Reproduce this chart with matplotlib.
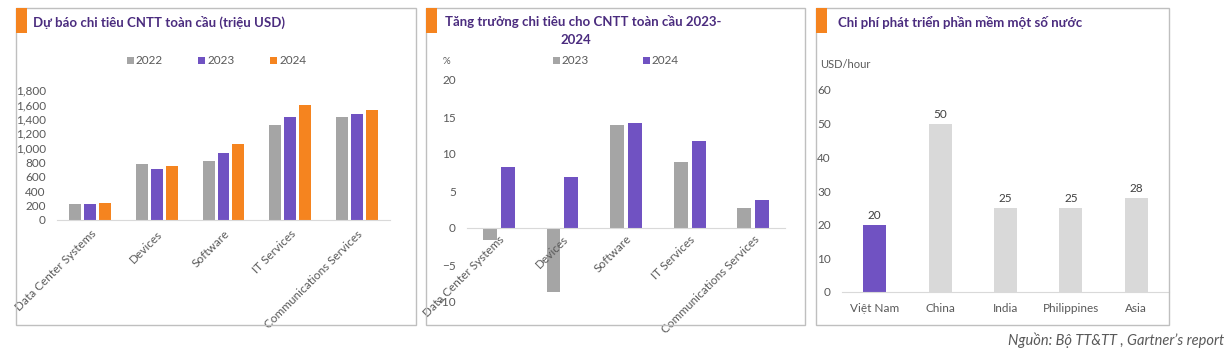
import matplotlib.pyplot as plt
import numpy as np
from matplotlib.patches import Rectangle

plt.rcParams["font.family"] = ["Lato", "DejaVu Sans"]

W, H = 1227, 357

# chart 1: global IT spending forecast (million USD)
segments = ["Data Center Systems", "Devices", "Software", "IT Services", "Communications Services"]
years1 = ["2022", "2023", "2024"]
spend_2022 = [221, 771, 812, 1311, 1426]
spend_2023 = [217, 701, 928, 1426, 1468]
spend_2024 = [240, 752, 1057, 1592, 1523]
spend_ticks = [0, 200, 400, 600, 800, 1000, 1200, 1400, 1600, 1800]

# chart 2: growth of IT spending (%)
years2 = ["2023", "2024"]
growth_2023 = [-1.6, -8.7, 13.9, 8.9, 2.7]
growth_2024 = [8.2, 6.95, 14.2, 11.7, 3.8]
growth_ticks = [-10, -5, 0, 5, 10, 15, 20]

# chart 3: software development cost
countries = ["Việt Nam", "China", "India", "Philippines", "Asia"]
cost = [20, 50, 25, 25, 28]
cost_ticks = [0, 10, 20, 30, 40, 50, 60]

GRAY = "#A5A5A5"
LIGHT = "#D9D9D9"
PURPLE = "#7052C2"
ORANGE = "#F5841F"
TITLE = "#4B2C7F"
TXT = "#595959"
AXIS = "#D9D9D9"
FS = 8.5


def px_axes(fig, x0, y0, x1, y1):
    return fig.add_axes([x0 / W, 1 - y1 / H, (x1 - x0) / W, (y1 - y0) / H])


def panel(fig, x0, y0, x1, y1, title_lines, tx):
    fig.patches.append(Rectangle((x0 / W, 1 - y1 / H), (x1 - x0) / W, (y1 - y0) / H,
                                 transform=fig.transFigure, fill=False,
                                 edgecolor="#BFBFBF", linewidth=1.0))
    fig.patches.append(Rectangle((x0 / W, 1 - 33 / H), 11 / W, 25 / H,
                                 transform=fig.transFigure, facecolor=ORANGE,
                                 edgecolor="none"))
    for i, line in enumerate(title_lines):
        fig.text(tx[i] / W, 1 - (22 + 18 * i) / H, line, fontsize=9.5, fontweight="bold",
                 color=TITLE, va="center", ha="left" if i == 0 else "center")


def style(ax):
    for s in ["top", "right", "left"]:
        ax.spines[s].set_visible(False)
    ax.spines["bottom"].set_color(AXIS)
    ax.tick_params(length=0, colors=TXT, labelsize=FS)
    ax.tick_params(axis="y", pad=8)


def legend_row(fig, items, y):
    for x, label, color in items:
        fig.patches.append(Rectangle((x / W, 1 - (y + 4) / H), 7 / W, 7 / H,
                                     transform=fig.transFigure, facecolor=color,
                                     edgecolor="none"))
        fig.text((x + 9) / W, 1 - y / H, label, fontsize=FS, color=TXT, va="center")


fig = plt.figure(figsize=(W / 100, H / 100), dpi=100)

# ---- panel 1
panel(fig, 16, 8, 416, 325, ["Dự báo chi tiêu CNTT toàn cầu (triệu USD)"], [33])
ax1 = px_axes(fig, 57, 90, 390, 220)
x = np.arange(len(segments))
for off, vals, c in [(-0.225, spend_2022, GRAY), (0, spend_2023, PURPLE), (0.225, spend_2024, ORANGE)]:
    ax1.bar(x + off, vals, width=0.18, color=c)
ax1.set_xlim(-0.5, 4.5)
ax1.set_ylim(0, 1800)
style(ax1)
ax1.set_yticks(spend_ticks)
ax1.set_yticklabels([f"{v:,}" for v in spend_ticks])
ax1.set_xticks(x)
ax1.set_xticklabels(segments, rotation=45, ha="right", rotation_mode="anchor")
ax1.tick_params(axis="x", pad=6)
legend_row(fig, [(127, years1[0], GRAY), (198, years1[1], PURPLE), (270, years1[2], ORANGE)], 60)

# ---- panel 2
panel(fig, 426, 8, 805, 325, ["Tăng trưởng chi tiêu cho CNTT toàn cầu 2023-", "2024"], [445, 576])
ax2 = px_axes(fig, 467, 80, 785, 302)
for off, vals, c in [(-0.14, growth_2023, GRAY), (0.14, growth_2024, PURPLE)]:
    ax2.bar(x + off, vals, width=0.22, color=c)
ax2.set_xlim(-0.5, 4.5)
ax2.set_ylim(-10, 20)
ax2.spines["bottom"].set_position(("data", 0))
style(ax2)
ax2.set_yticks(growth_ticks)
ax2.set_xticks(x)
ax2.set_xticklabels(segments, rotation=45, ha="right", rotation_mode="anchor")
ax2.tick_params(axis="x", pad=4)
fig.text(443 / W, 1 - 62 / H, "%", fontsize=7, color=TXT, va="center")
legend_row(fig, [(553, years2[0], GRAY), (643, years2[1], PURPLE)], 60)

# ---- panel 3
panel(fig, 816, 8, 1169, 325, ["Chi phí phát triển phần mềm một số nước"], [838])
ax3 = px_axes(fig, 842, 90, 1169, 292)
colors3 = [PURPLE] + [LIGHT] * (len(countries) - 1)
bars = ax3.bar(np.arange(len(countries)), cost, width=0.35, color=colors3)
ax3.bar_label(bars, labels=[str(v) for v in cost], padding=3, fontsize=FS, color="#404040")
ax3.set_xlim(-0.5, 4.5)
ax3.set_ylim(0, 60)
style(ax3)
ax3.set_yticks(cost_ticks)
ax3.set_xticks(np.arange(len(countries)))
ax3.set_xticklabels(countries)
ax3.tick_params(axis="x", pad=8)
fig.text(820 / W, 1 - 64 / H, "USD/hour", fontsize=8, color=TXT, va="center")

fig.text(1224 / W, 1 - 340 / H, "Nguồn: Bộ TT&TT , Gartner’s report", fontsize=10.5,
         style="italic", color="#595959", ha="right", va="center")

fig.savefig("out.png", dpi=100)
